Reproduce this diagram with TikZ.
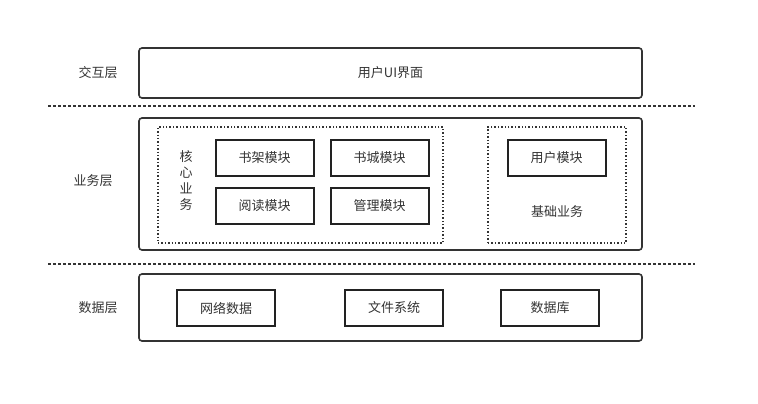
\documentclass[tikz,border=0pt]{standalone}
\usepackage{fontspec}
\setmainfont{Noto Sans CJK SC}
\definecolor{linha}{HTML}{333333}
\definecolor{borda}{HTML}{222222}
\tikzset{
  camada/.style={draw=linha, line width=1.6pt, rounded corners=3pt, inner sep=0pt},
  grupo/.style={draw=linha, line width=1.4pt, dotted, inner sep=0pt},
  modulo/.style={draw=borda, line width=2pt, minimum width=98pt, minimum height=36pt, inner sep=0pt},
  rotulo/.style={text=linha, font=\fontsize{13}{15}\selectfont},
  separa/.style={linha, line width=1.4pt, dash pattern=on 3pt off 2pt}
}
\begin{document}
\begin{tikzpicture}[x=1pt, y=-1pt, every node/.append style={rotulo}]
        \useasboundingbox (0,0) rectangle (758,404);

        % Camadas
        \node[camada, minimum width=503pt, minimum height=50pt] (interacao) at (390.5,73) {用户UI界面};
        \node[camada, minimum width=503pt, minimum height=132pt] (negocio) at (390.5,184) {};
        \node[camada, minimum width=503pt, minimum height=67pt] (dados) at (390.5,307.5) {};

        % Nomes das camadas
        \node (ljiaohu) at (98,73) {交互层};
        \node (lyewu) at (93,181) {业务层};
        \node (lshuju) at (98,308) {数据层};

        % Separadores
        \draw[separa] (48,106) -- (695,106);
        \draw[separa] (48,264) -- (695,264);

        % Grupos pontilhados
        \node[grupo, minimum width=285pt, minimum height=116pt] (nucleo) at (300.5,185) {};
        \node[grupo, minimum width=138pt, minimum height=116pt] (base) at (557,185) {};
        \node[align=center, font=\fontsize{13}{16}\selectfont] (lnucleo) at (186,181) {核\\心\\业\\务};
        \node (lbase) at (557,212) {基础业务};

        % Modulos
        \node[modulo] (shujia) at (264.5,157.5) {书架模块};
        \node[modulo] (shucheng) at (379.5,157.5) {书城模块};
        \node[modulo] (yuedu) at (264.5,205.5) {阅读模块};
        \node[modulo] (guanli) at (379.5,205.5) {管理模块};
        \node[modulo] (yonghu) at (556.5,157.5) {用户模块};

        % Fontes de dados
        \node[modulo] (wangluo) at (226,308) {网络数据};
        \node[modulo] (wenjian) at (394,308) {文件系统};
        \node[modulo] (shujuku) at (550,308) {数据库};
    \end{tikzpicture}
\end{document}
